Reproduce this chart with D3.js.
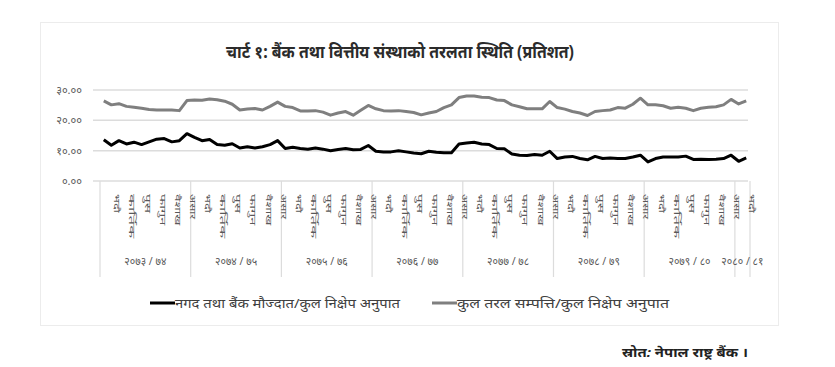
<!DOCTYPE html>
<html><head><meta charset="utf-8">
<script src="https://cdn.jsdelivr.net/npm/d3@7"></script>
<style>
body{margin:0;background:#fff}
svg text{font-family:"Noto Sans","Noto Sans Devanagari","Lohit Devanagari",sans-serif}
</style>
</head><body>
<svg id="chart" width="835" height="367"></svg>
<script>
const titleText = "चार्ट १: बैंक तथा वित्तीय संस्थाको तरलता स्थिति (प्रतिशत)";
const monthNames = ["साउन","भदौ","असोज","कार्तिक","मंसिर","पुस","माघ","फागुन","चैत","वैशाख","जेठ","असार"];
const fiscalYears = ["२०७३/७४","२०७४/७५","२०७५/७६","२०७६/७७","२०७७/७८","२०७८/७९","२०७९/८०","२०८०/८१"];
const monthsPerYear = [12,12,12,12,12,12,12,2];
const seriesNames = ["नगद तथा बैंक मौज्दात/कुल निक्षेप अनुपात","कुल तरल सम्पत्ति/कुल निक्षेप अनुपात"];
const cashRatio = [13.6,11.8,13.3,12.2,12.8,12.0,12.9,13.8,14.0,12.9,13.3,15.6,
  14.4,13.3,13.7,12.0,11.8,12.3,10.9,11.3,10.9,11.3,12.0,13.3,
  10.7,11.1,10.7,10.5,10.9,10.5,10.0,10.4,10.7,10.3,10.4,11.7,
  9.8,9.6,9.6,10.0,9.6,9.2,9.0,9.8,9.5,9.3,9.3,12.2,
  12.5,12.8,12.2,12.0,10.7,10.6,8.9,8.5,8.4,8.7,8.5,9.8,
  7.4,7.9,8.1,7.4,7.0,8.1,7.4,7.6,7.4,7.4,7.9,8.5,
  6.3,7.4,7.9,7.9,7.9,8.2,7.1,7.2,7.1,7.2,7.4,8.5,
  6.5,7.6];
const liquidRatio = [26.4,25.1,25.5,24.6,24.3,24.0,23.6,23.4,23.4,23.4,23.2,26.5,
  26.7,26.6,27.0,26.8,26.3,25.3,23.4,23.7,23.9,23.4,24.6,26.0,
  24.6,24.2,23.1,23.1,23.2,22.7,21.7,22.4,22.9,21.7,23.3,24.9,
  23.8,23.2,23.1,23.2,22.9,22.6,21.8,22.4,22.9,24.2,25.1,27.5,
  28.0,28.0,27.6,27.5,26.7,26.5,25.1,24.5,23.8,23.8,23.8,26.2,
  24.2,23.7,22.9,22.4,21.6,22.9,23.2,23.4,24.2,24.0,25.3,27.3,
  25.1,25.1,24.8,24.0,24.3,24.0,23.2,24.0,24.3,24.5,25.1,26.9,
  25.4,26.4];
const yTicks = [0,10,20,30];
const yTickLabels = ["०.००","१०.००","२०.००","३०.००"];
const sourceText = "स्रोत: नेपाल राष्ट्र बैंक ।";

// build categories
const categories = [];
fiscalYears.forEach((fy, k) => {
  for (let m = 0; m < monthsPerYear[k]; m++) categories.push({id: fy + "-" + m, fy, month: monthNames[m], m});
});

const svg = d3.select("#chart");
const plotL = 100, plotR = 750, plotT = 90, plotB = 181;
const x = d3.scaleBand().domain(categories.map(c => c.id)).range([plotL, plotR]);
const y = d3.scaleLinear().domain([0, 30]).range([plotB, plotT]);

// outer frame
svg.append("rect").attr("x", 40.5).attr("y", 22.5).attr("width", 738).attr("height", 303)
  .attr("fill", "#fff").attr("stroke", "#ececec");

// title
svg.append("text").attr("x", 400).attr("y", 58).attr("text-anchor", "middle")
  .attr("font-size", 18).attr("font-weight", "bold").attr("fill", "#2b2b2b")
  .attr("textLength", 348).attr("lengthAdjust", "spacingAndGlyphs").text(titleText);

// gridlines
svg.append("g").selectAll("line").data(yTicks).join("line")
  .attr("x1", 93).attr("x2", plotR - 2).attr("y1", d => y(d)).attr("y2", d => y(d))
  .attr("stroke", "#dcdcdc").attr("stroke-width", 1.5);

// y labels
svg.append("g").selectAll("text").data(yTicks).join("text")
  .attr("x", 82).attr("y", d => y(d) + 4).attr("text-anchor", "end")
  .attr("font-size", 11).attr("fill", "#595959").text((d, i) => yTickLabels[i]);

// year separators
const bounds = [];
let idx = 0;
fiscalYears.forEach((fy, k) => {
  const first = categories[idx].id;
  const last = categories[idx + monthsPerYear[k] - 1].id;
  bounds.push({fy, x0: x(first), x1: x(last) + x.bandwidth()});
  idx += monthsPerYear[k];
});
const sepXs = [bounds[0].x0].concat(bounds.map(b => b.x1));
svg.append("g").selectAll("line").data(sepXs).join("line")
  .attr("x1", d => d).attr("x2", d => d).attr("y1", plotB).attr("y2", 277)
  .attr("stroke", "#dcdcdc").attr("stroke-width", 1.2);

// month labels (every other)
svg.append("g").selectAll("text").data(categories.filter(c => c.m % 2 === 1)).join("text")
  .attr("transform", d => `translate(${x(d.id) + x.bandwidth() / 2 + 3},194) rotate(90)`)
  .attr("font-size", 8).attr("fill", "#595959")
  .attr("textLength", d => Array.from(d.month).length * 6.3)
  .attr("lengthAdjust", "spacingAndGlyphs")
  .text(d => d.month);

// year labels
svg.append("g").selectAll("text").data(bounds).join("text")
  .attr("x", d => (d.x0 + d.x1) / 2).attr("y", 265).attr("text-anchor", "middle")
  .attr("font-size", 10.5).attr("fill", "#595959").text(d => d.fy.replace("/", " / "));

// lines
const line = d3.line().x((d, i) => x(categories[i].id) + x.bandwidth() / 2).y(d => y(d));
svg.append("path").datum(liquidRatio).attr("d", line).attr("fill", "none")
  .attr("stroke", "#7f7f7f").attr("stroke-width", 3).attr("stroke-linejoin", "round");
svg.append("path").datum(cashRatio).attr("d", line).attr("fill", "none")
  .attr("stroke", "#000").attr("stroke-width", 3).attr("stroke-linejoin", "round");

// legend
const legend = [{name: seriesNames[0], color: "#000", x: 150, len: 225}, {name: seriesNames[1], color: "#7f7f7f", x: 432, len: 212}];
const lg = svg.append("g").selectAll("g").data(legend).join("g").attr("transform", d => `translate(${d.x},303)`);
lg.append("line").attr("x1", 0).attr("x2", 25).attr("y1", 0).attr("y2", 0)
  .attr("stroke", d => d.color).attr("stroke-width", 3);
lg.append("text").attr("x", 25).attr("y", 4.5).attr("font-size", 13).attr("fill", "#404040")
  .attr("textLength", d => d.len).attr("lengthAdjust", "spacingAndGlyphs").text(d => d.name);

// source
svg.append("text").attr("x", 622).attr("y", 357).attr("font-size", 13).attr("font-weight", "bold")
  .attr("font-style", "italic").attr("fill", "#222")
  .attr("textLength", 126).attr("lengthAdjust", "spacingAndGlyphs").text(sourceText);
</script>
</body></html>
